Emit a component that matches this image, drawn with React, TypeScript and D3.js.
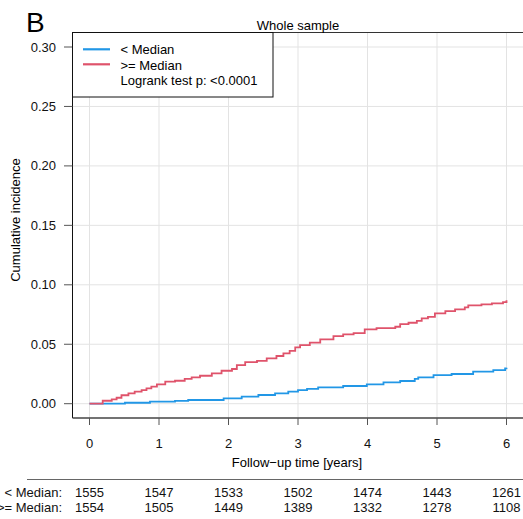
import React, { useEffect, useRef } from 'react';
import * as d3 from 'd3';

// risk table
const groups = ['< Median', '>= Median'];
const atRisk = [
  [1555, 1547, 1533, 1502, 1474, 1443, 1261],
  [1554, 1505, 1449, 1389, 1332, 1278, 1108],
];
const xTicks = [0, 1, 2, 3, 4, 5, 6];
const yTicks = [0, 0.05, 0.1, 0.15, 0.2, 0.25, 0.3];

// cumulative incidence (years, value)
const belowTime = [0, 0.51, 0.87, 1.23, 1.42, 1.93, 2.19, 2.43, 2.67, 2.86, 3.0, 3.13, 3.29, 3.65, 3.99, 4.23, 4.47, 4.68, 4.73, 4.95, 5.21, 5.52, 5.81, 5.98, 6.0];
const belowInc = [0, 0.0008, 0.0017, 0.0023, 0.0031, 0.0045, 0.0059, 0.0073, 0.0087, 0.0101, 0.0115, 0.0124, 0.0138, 0.0149, 0.0163, 0.018, 0.0191, 0.0208, 0.0222, 0.0241, 0.025, 0.0269, 0.0283, 0.0297, 0.0303];
const aboveTime = [0, 0.19, 0.32, 0.39, 0.46, 0.56, 0.65, 0.75, 0.82, 0.89, 0.97, 1.09, 1.23, 1.37, 1.47, 1.59, 1.76, 1.9, 2.05, 2.12, 2.24, 2.41, 2.55, 2.69, 2.79, 2.88, 2.96, 3.03, 3.17, 3.32, 3.51, 3.65, 3.8, 3.96, 4.13, 4.4, 4.47, 4.59, 4.71, 4.78, 4.87, 4.97, 5.12, 5.26, 5.4, 5.45, 5.64, 5.79, 5.95, 6.0];
const aboveInc = [0, 0.0025, 0.0037, 0.005, 0.0071, 0.0087, 0.0101, 0.0115, 0.0129, 0.0143, 0.0163, 0.0185, 0.0193, 0.0208, 0.0222, 0.0235, 0.0255, 0.0277, 0.0292, 0.0325, 0.035, 0.0361, 0.0382, 0.0401, 0.0424, 0.0445, 0.0474, 0.0493, 0.0513, 0.0541, 0.0569, 0.0583, 0.0594, 0.0625, 0.0636, 0.0647, 0.067, 0.0681, 0.0697, 0.0718, 0.0731, 0.076, 0.0779, 0.0793, 0.081, 0.0827, 0.0835, 0.0844, 0.0855, 0.0871];

const colors = ['#2297E6', '#DF536B'];
const legendText = ['< Median', '>= Median', 'Logrank test p: <0.0001'];

const App = () => {
  const svgRef = useRef<SVGSVGElement>(null);

  useEffect(() => {
    const svg = d3.select(svgRef.current);
    svg.selectAll('*').remove();
    const font = 'Liberation Sans, Arial, Helvetica, sans-serif';
    const panel = { left: 72.5, right: 526, top: 32.5, bottom: 418 };

    const x = d3.scaleLinear().domain([0, 6]).range([89.5, 506.5]);
    const y = d3.scaleLinear().domain([0, 0.3]).range([403.7, 47]);

    svg.append('rect').attr('width', 523).attr('height', 519).attr('fill', '#fff');

    // grid
    const grid = svg.append('g').attr('stroke', '#e3e3e3').attr('stroke-width', 1);
    grid.selectAll('.vx').data(xTicks).join('line')
      .attr('x1', d => x(d)).attr('x2', d => x(d))
      .attr('y1', panel.top).attr('y2', panel.bottom);
    grid.selectAll('.hy').data(yTicks).join('line')
      .attr('x1', panel.left).attr('x2', panel.right)
      .attr('y1', d => y(d)).attr('y2', d => y(d));

    // curves
    const line = d3.line<[number, number]>()
      .x(d => x(d[0])).y(d => y(d[1]))
      .curve(d3.curveStepAfter);
    const series = [
      d3.zip(belowTime, belowInc) as [number, number][],
      d3.zip(aboveTime, aboveInc) as [number, number][],
    ];
    svg.append('g').selectAll('path').data(series).join('path')
      .attr('d', d => line(d))
      .attr('fill', 'none')
      .attr('stroke', (d, i) => colors[i])
      .attr('stroke-width', 1.8);

    // panel border
    svg.append('line').attr('x1', panel.left).attr('x2', panel.right)
      .attr('y1', panel.top).attr('y2', panel.top).attr('stroke', '#333');
    svg.append('line').attr('x1', panel.left).attr('x2', panel.left)
      .attr('y1', panel.top).attr('y2', panel.bottom).attr('stroke', '#111');
    svg.append('line').attr('x1', panel.left).attr('x2', panel.right)
      .attr('y1', panel.bottom).attr('y2', panel.bottom).attr('stroke', '#444').attr('stroke-width', 1.5);

    // y axis
    const ya = svg.append('g').attr('font-family', font).attr('font-size', 13);
    ya.selectAll('line').data(yTicks).join('line')
      .attr('x1', 64).attr('x2', panel.left)
      .attr('y1', d => y(d)).attr('y2', d => y(d))
      .attr('stroke', '#555');
    ya.selectAll('text').data(yTicks).join('text')
      .attr('x', 56).attr('y', d => y(d)).attr('dy', '0.35em')
      .attr('text-anchor', 'end').attr('fill', '#111')
      .text(d => d3.format('.2f')(d));
    svg.append('text')
      .attr('transform', 'translate(20,220) rotate(-90)')
      .attr('text-anchor', 'middle').attr('font-family', font).attr('font-size', 13)
      .text('Cumulative incidence');

    // x axis
    const xa = svg.append('g').attr('font-family', font).attr('font-size', 13);
    xa.selectAll('line').data(xTicks).join('line')
      .attr('x1', d => x(d)).attr('x2', d => x(d))
      .attr('y1', panel.bottom).attr('y2', 425)
      .attr('stroke', '#555');
    xa.selectAll('text').data(xTicks).join('text')
      .attr('x', d => x(d)).attr('y', 443).attr('dy', '0.35em')
      .attr('text-anchor', 'middle').attr('fill', '#111')
      .text(d => d);
    svg.append('text')
      .attr('x', 297).attr('y', 462).attr('dy', '0.35em')
      .attr('text-anchor', 'middle').attr('font-family', font).attr('font-size', 13)
      .text('Follow\u2212up time [years]');

    // titles
    svg.append('text').attr('x', 298).attr('y', 29.5)
      .attr('text-anchor', 'middle').attr('font-family', font).attr('font-size', 13)
      .text('Whole sample');
    svg.append('text').attr('x', 26).attr('y', 32)
      .attr('font-family', font).attr('font-size', 28)
      .text('B');

    // legend
    const lg = svg.append('g').attr('font-family', font).attr('font-size', 13);
    lg.append('rect').attr('x', panel.left).attr('y', panel.top)
      .attr('width', 200.5).attr('height', 64.5)
      .attr('fill', '#fff').attr('stroke', '#111');
    colors.forEach((c, i) => {
      lg.append('line').attr('x1', 83).attr('x2', 110)
        .attr('y1', 49.3 + i * 15).attr('y2', 49.3 + i * 15)
        .attr('stroke', c).attr('stroke-width', 2.2);
    });
    lg.selectAll('text').data(legendText).join('text')
      .attr('x', 120.5).attr('y', (d, i) => 49.5 + i * 15.5).attr('dy', '0.35em')
      .text(d => d);

    // risk table
    svg.append('line').attr('x1', 27).attr('x2', 523)
      .attr('y1', 479.5).attr('y2', 479.5).attr('stroke', '#666').attr('stroke-width', 1.2);
    const rt = svg.append('g').attr('font-family', font).attr('font-size', 13).attr('fill', '#111');
    groups.forEach((g, i) => {
      const yy = 492 + i * 15;
      rt.append('text').attr('x', 62).attr('y', yy).attr('dy', '0.35em')
        .attr('text-anchor', 'end').text(g + ':');
      rt.append('g').selectAll('text').data(atRisk[i]).join('text')
        .attr('x', (d, j) => x(xTicks[j])).attr('y', yy).attr('dy', '0.35em')
        .attr('text-anchor', 'middle').text(d => d);
    });
  }, []);

  return <svg ref={svgRef} width={523} height={519} style={{ position: 'absolute', left: 0, top: 0 }}></svg>;
};

export default App;
